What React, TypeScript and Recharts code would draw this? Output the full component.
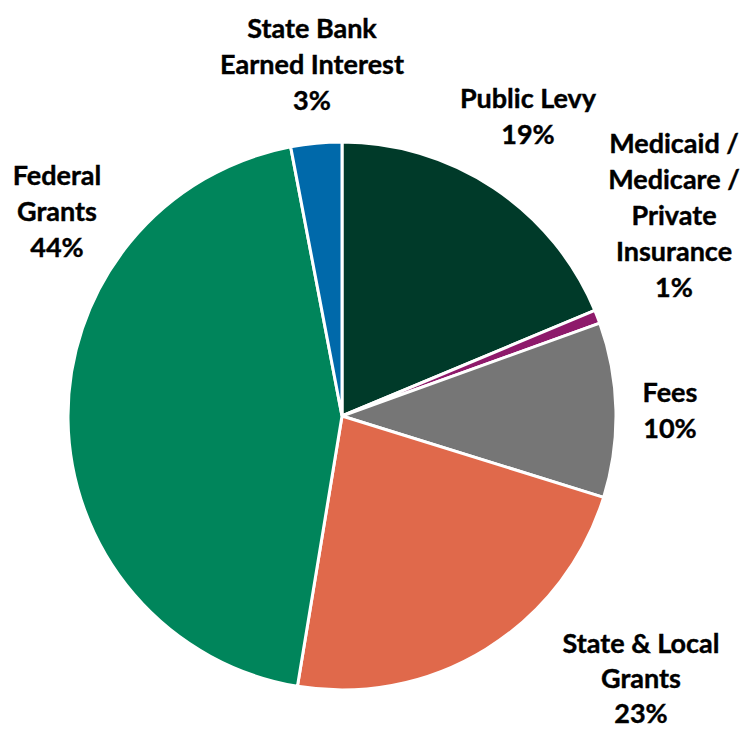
import { Cell, Pie, PieChart } from "recharts";

const NAMES = [
  "Public Levy",
  "Medicaid / Medicare / Private Insurance",
  "Fees",
  "State & Local Grants",
  "Federal Grants",
  "State Bank Earned Interest",
];
const VALUES = [18.7, 0.8, 10.3, 22.8, 44.4, 3.0];
const PCT_LABELS = ["19%", "1%", "10%", "23%", "44%", "3%"];
const LABEL_LINES = [
  ["Public Levy"],
  ["Medicaid /", "Medicare /", "Private", "Insurance"],
  ["Fees"],
  ["State & Local", "Grants"],
  ["Federal", "Grants"],
  ["State Bank", "Earned Interest"],
];
const COLORS = ["#003A29", "#8E1A6B", "#767676", "#E0694B", "#00855B", "#0069AA"];

// label anchor (centre x, first baseline) relative to pie centre
const LABEL_OFFSETS = [
  [186, -308],
  [332, -263],
  [328, -14],
  [299, 237],
  [-285, -231],
  [-30, -378],
];

const DATA = NAMES.map((name, i) => ({ name, value: VALUES[i] }));
const LINE_H = 36;

function renderLabel(props: any) {
  const { cx, cy, index } = props;
  const [ox, oy] = LABEL_OFFSETS[index];
  const lines = [...LABEL_LINES[index], PCT_LABELS[index]];
  // the bottom label sits against the page edge, so its lines are a touch tighter
  const lh = index === 3 ? 35 : LINE_H;
  return (
    <text
      x={cx + ox}
      y={cy + oy}
      textAnchor="middle"
      fill="#000"
      fontFamily="Lato, sans-serif"
      fontWeight={700}
      fontSize={27}
      stroke="#000"
      strokeWidth={0.4}
    >
      {lines.map((l, k) => (
        <tspan key={k} x={cx + ox} dy={k === 0 ? 0 : lh}>
          {l}
        </tspan>
      ))}
    </text>
  );
}

export default function App() {
  return (
    <div style={{ width: 741, height: 730, background: "#fff" }}>
      <style>{"body{margin:0}"}</style>
      <PieChart width={741} height={730}>
        <Pie
          data={DATA}
          dataKey="value"
          nameKey="name"
          cx={337}
          cy={411}
          outerRadius={274}
          startAngle={90}
          endAngle={-270}
          stroke="#fff"
          strokeWidth={3}
          label={renderLabel}
          labelLine={false}
          isAnimationActive={false}
        >
          {DATA.map((d, i) => (
            <Cell key={d.name} fill={COLORS[i]} />
          ))}
        </Pie>
      </PieChart>
    </div>
  );
}
